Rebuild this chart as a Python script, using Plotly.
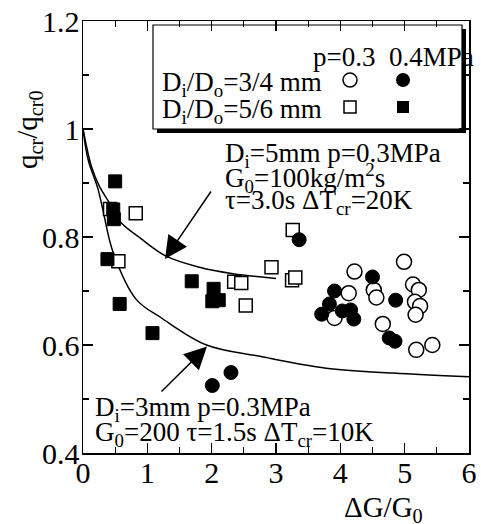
import plotly.graph_objects as go

# ---------------- data ----------------
# D_i/D_o = 3/4 mm, p = 0.3 MPa (open circles)
oc_x = [4.22, 4.99, 4.13, 4.52, 4.56, 3.91, 4.66, 5.13, 5.22, 5.16, 5.24, 5.17, 5.18, 5.43]
oc_y = [0.736, 0.754, 0.696, 0.702, 0.688, 0.650, 0.639, 0.712, 0.702, 0.680, 0.672, 0.656, 0.591, 0.600]
# D_i/D_o = 3/4 mm, p = 0.4 MPa (filled circles)
fc_x = [3.36, 4.50, 3.91, 4.86, 3.83, 3.71, 4.03, 4.16, 4.21, 4.76, 4.85, 2.01, 2.30]
fc_y = [0.795, 0.726, 0.700, 0.683, 0.676, 0.657, 0.663, 0.665, 0.648, 0.613, 0.607, 0.525, 0.549]
# D_i/D_o = 5/6 mm, p = 0.3 MPa (open squares)
os_x = [0.42, 0.82, 0.55, 2.35, 2.46, 2.53, 2.93, 3.25, 3.30, 3.26]
os_y = [0.852, 0.844, 0.755, 0.717, 0.715, 0.673, 0.744, 0.720, 0.725, 0.813]
# D_i/D_o = 5/6 mm, p = 0.4 MPa (filled squares)
fs_x = [0.50, 0.47, 0.48, 0.38, 0.57, 1.08, 1.69, 2.03, 2.01, 2.11]
fs_y = [0.903, 0.851, 0.833, 0.759, 0.676, 0.622, 0.718, 0.704, 0.681, 0.683]

# model curves
c5_x = [0.0, 0.13, 0.25, 0.41, 0.57, 0.90, 1.30, 1.81, 2.33, 3.00]
c5_y = [1.0, 0.931, 0.895, 0.863, 0.829, 0.797, 0.764, 0.744, 0.732, 0.723]
c3_x = [0.0, 0.08, 0.23, 0.31, 0.47, 0.83, 1.22, 1.92, 2.75, 3.78, 4.82, 6.0]
c3_y = [1.0, 0.943, 0.890, 0.850, 0.771, 0.684, 0.650, 0.600, 0.579, 0.557, 0.548, 0.541]

x_ticks = [0, 1, 2, 3, 4, 5, 6]
y_ticks = [0.4, 0.6, 0.8, 1.0, 1.2]
y_tick_text = ["0.4", "0.6", "0.8", "1", "1.2"]

# ---------------- layout helpers (pixel -> paper) ----------------
W, H = 481, 524
L, R, T, B = 83, 12, 21, 71
PW, PH = W - L - R, H - T - B
FONT = "Liberation Serif"


def px(xp):
    return (xp - L) / PW


def py(yp):
    return (H - B - yp) / PH


def dx(xp):
    return (xp - L) / PW * 6.0


def dy(yp):
    return 0.4 + (H - B - yp) / PH * 0.8


fig = go.Figure()

lw = 1.5
fig.add_trace(go.Scatter(x=c5_x, y=c5_y, mode="lines", line=dict(color="black", width=lw, shape="spline"), showlegend=False))
fig.add_trace(go.Scatter(x=c3_x, y=c3_y, mode="lines", line=dict(color="black", width=lw, shape="spline"), showlegend=False))

fig.add_trace(go.Scatter(x=os_x, y=os_y, mode="markers",
                         marker=dict(symbol="square", size=13, color="white", line=dict(color="black", width=1.5)),
                         showlegend=False))
fig.add_trace(go.Scatter(x=fs_x, y=fs_y, mode="markers",
                         marker=dict(symbol="square", size=13, color="black", line=dict(color="black", width=1)),
                         showlegend=False))
fig.add_trace(go.Scatter(x=oc_x, y=oc_y, mode="markers",
                         marker=dict(symbol="circle", size=15, color="white", line=dict(color="black", width=1.5)),
                         showlegend=False))
fig.add_trace(go.Scatter(x=fc_x, y=fc_y, mode="markers",
                         marker=dict(symbol="circle", size=14, color="black", line=dict(color="black", width=1)),
                         showlegend=False))

# legend box (shadow + box)
shapes = [
    dict(type="rect", xref="paper", yref="paper", x0=px(157), x1=px(466), y0=py(133), y1=py(29),
         fillcolor="black", line=dict(width=0), layer="below"),
    dict(type="rect", xref="paper", yref="paper", x0=px(153), x1=px(462), y0=py(129), y1=py(25),
         fillcolor="white", line=dict(color="black", width=1.2), layer="below"),
]
fig.update_layout(shapes=shapes)

# legend glyphs
fig.add_trace(go.Scatter(x=[dx(350)], y=[dy(80)], mode="markers", cliponaxis=False,
                         marker=dict(symbol="circle", size=14, color="white", line=dict(color="black", width=1.5)),
                         showlegend=False))
fig.add_trace(go.Scatter(x=[dx(403)], y=[dy(80)], mode="markers", cliponaxis=False,
                         marker=dict(symbol="circle", size=14, color="black"), showlegend=False))
fig.add_trace(go.Scatter(x=[dx(350)], y=[dy(107)], mode="markers", cliponaxis=False,
                         marker=dict(symbol="square", size=12, color="white", line=dict(color="black", width=1.5)),
                         showlegend=False))
fig.add_trace(go.Scatter(x=[dx(403)], y=[dy(107)], mode="markers", cliponaxis=False,
                         marker=dict(symbol="square", size=12, color="black"), showlegend=False))

ann = []
tf = dict(family=FONT, size=27, color="black")
af = dict(family=FONT, size=27, color="black")


def text(xp, yp, s, font, xanchor="left"):
    ann.append(dict(xref="paper", yref="paper", x=px(xp), y=py(yp), text=s, showarrow=False,
                    xanchor=xanchor, yanchor="middle", font=font))


text(311, 57, "p=0.3  0.4MPa", tf)
text(160, 84, "D<sub>i</sub>/D<sub>o</sub>=3/4 mm", tf)
text(160, 111, "D<sub>i</sub>/D<sub>o</sub>=5/6 mm", tf)

text(223, 155, "D<sub>i</sub>=5mm p=0.3MPa", af)
text(223, 178, "G<sub>0</sub>=100kg/m<sup>2</sup>s", af)
text(223, 202, "τ=3.0s ΔT<sub>cr</sub>=20K", af)

text(93, 409, "D<sub>i</sub>=3mm p=0.3MPa", af)
text(93, 434, "G<sub>0</sub>=200 τ=1.5s ΔT<sub>cr</sub>=10K", af)

# axis titles
ann.append(dict(xref="paper", yref="paper", x=px(383), y=py(509), text="ΔG/G<sub>0</sub>", showarrow=False,
                xanchor="center", yanchor="middle", font=dict(family=FONT, size=29, color="black")))
ann.append(dict(xref="paper", yref="paper", x=px(29), y=py(130), text="q<sub>cr</sub>/q<sub>cr0</sub>", showarrow=False,
                xanchor="center", yanchor="middle", textangle=-90, font=dict(family=FONT, size=29, color="black")))

# arrows
ann.append(dict(x=dx(165), y=dy(259), xref="x", yref="y", ax=47, ay=-69, text="", showarrow=True,
                arrowhead=2, arrowsize=3, arrowwidth=1.5, arrowcolor="black"))
ann.append(dict(x=dx(207), y=dy(346.5), xref="x", yref="y", ax=-47, ay=46.5, text="", showarrow=True,
                arrowhead=2, arrowsize=3, arrowwidth=1.5, arrowcolor="black"))

fig.update_layout(annotations=ann)

axis_common = dict(showgrid=False, zeroline=False, showline=True, linecolor="black", linewidth=1.5,
                   mirror="ticks", ticks="inside", ticklen=10, tickwidth=1.5, tickcolor="black",
                   tickfont=dict(family=FONT, size=30, color="black"), automargin=False)

fig.update_xaxes(range=[0, 6], tickvals=x_ticks, ticktext=[str(v) for v in x_ticks],
                 minor=dict(dtick=0.5, ticks="inside", ticklen=6, tickwidth=1.2, tickcolor="black"),
                 ticklabelstandoff=-8, **axis_common)
fig.update_yaxes(range=[0.4, 1.2], tickvals=y_ticks, ticktext=y_tick_text,
                 minor=dict(dtick=0.1, ticks="inside", ticklen=6, tickwidth=1.2, tickcolor="black"),
                 ticklabelstandoff=-4, **axis_common)

fig.update_layout(width=W, height=H, margin=dict(l=L, r=R, t=T, b=B, pad=0),
                  paper_bgcolor="white", plot_bgcolor="white", showlegend=False,
                  font=dict(family=FONT, color="black"))

fig.write_html("out.html", config={"displayModeBar": False, "staticPlot": True},
               post_script="document.body.style.margin='0';document.body.style.overflow='hidden';")
